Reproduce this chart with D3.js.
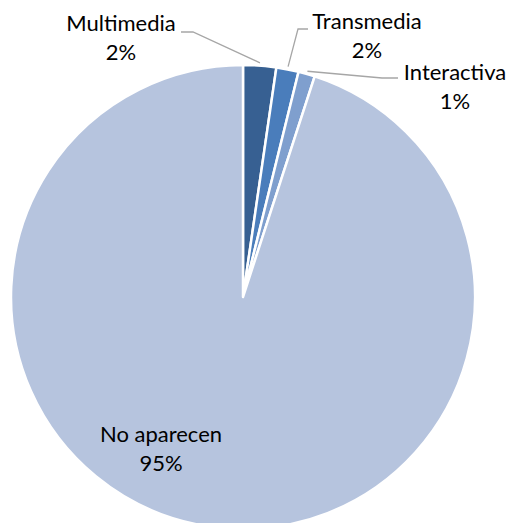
<!DOCTYPE html>
<html>
<head>
<meta charset="utf-8">
<script src="https://cdn.jsdelivr.net/npm/d3@7"></script>
<style>
  html, body { margin: 0; padding: 0; background: #fff; }
  svg { display: block; }
  text { font-family: Lato, "Open Sans", sans-serif; fill: #000; }
</style>
</head>
<body>
<div id="chart"></div>
<script>
// slice data
const categories = ['Multimedia', 'Transmedia', 'Interactiva', 'No aparecen']
const values = [2.3, 1.55, 1.15, 95.0]
const percentLabels = ['2%', '2%', '1%', '95%']
const colors = ['#376092', '#4a7dbb', '#7f9fce', '#b6c4de']

const width = 509
const height = 523
const cx = 243
const cy = 297
const r = 232

// label anchors (center x, first baseline) and leader elbows
const labelPos = [
  {x: 121, y: 31, elbow: [[181, 32], [193, 32]]},
  {x: 367, y: 29, elbow: [[308, 29], [298, 29]]},
  {x: 455, y: 80, elbow: [[398, 78], [382, 78]]},
  {x: 161, y: 442, elbow: null}
]

const data = categories.map((c, i) => ({name: c, value: values[i], pct: percentLabels[i], i}))

const svg = d3.select('#chart').append('svg')
  .attr('width', width)
  .attr('height', height)

const g = svg.append('g').attr('transform', `translate(${cx},${cy})`)

const pie = d3.pie().sort(null).value(d => d.value)
const arc = d3.arc().innerRadius(0).outerRadius(r)
const arcs = pie(data)

g.selectAll('path.slice')
  .data(arcs)
  .enter()
  .append('path')
  .attr('class', 'slice')
  .attr('d', arc)
  .style('fill', d => colors[d.data.i])
  .style('stroke', '#fff')
  .style('stroke-width', 2.5)
  .style('stroke-linejoin', 'round')

// leader lines: from label elbow to the outer edge at the slice's mid angle
arcs.forEach(d => {
  const lp = labelPos[d.data.i]
  if (!lp.elbow) return
  const mid = (d.startAngle + d.endAngle) / 2
  const edge = [cx + Math.sin(mid) * r * 1.012, cy - Math.cos(mid) * r * 1.012]
  svg.append('polyline')
    .attr('points', [...lp.elbow, edge].map(p => p.join(',')).join(' '))
    .style('fill', 'none')
    .style('stroke', '#a6a6a6')
    .style('stroke-width', 1.3)
})

// labels
data.forEach(d => {
  const lp = labelPos[d.i]
  const t = svg.append('text')
    .attr('text-anchor', 'middle')
    .style('font-size', '22px')
  t.append('tspan').attr('x', lp.x).attr('y', lp.y).text(d.name)
  t.append('tspan').attr('x', lp.x).attr('y', lp.y + 28.5).text(d.pct)
})
</script>
</body>
</html>
